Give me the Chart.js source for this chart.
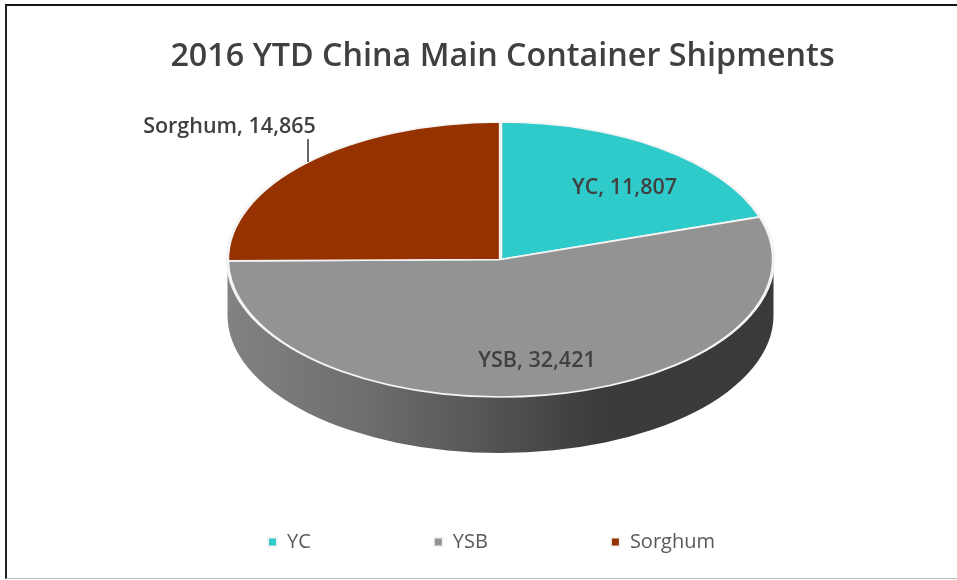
<!DOCTYPE html>
<html lang="en">
<head>
  <meta charset="UTF-8">
  <title>2016 YTD China Main Container Shipments</title>
  <script src="https://cdn.jsdelivr.net/npm/chart.js"></script>
  <style>
    html, body { margin: 0; background: #fff; overflow: hidden; }
    #frame {
      position: absolute; left: 5px; top: 4px; width: 950px; height: 572px;
      border-top: 2px solid #111; border-left: 2px solid #222; border-bottom: 1px solid #bbb;
      filter: blur(0.4px);
    }
    #chartShipments { position: absolute; left: 0; top: 0; filter: blur(0.5px); }
  </style>
</head>
<body>
  <div id="frame"></div>
  <canvas id="chartShipments" width="957" height="580"></canvas>

  <script>
    const chartTitle = '2016 YTD China Main Container Shipments';
    const categories = ['YC', 'YSB', 'Sorghum'];
    const shipments = [11807, 32421, 14865];
    const sliceColors = ['#2FCBCB', '#939393', '#963200'];

    // where the flattened pie sits on the page
    const pie = { x: 500.5, y: 259.5, rx: 273, ry: 137.5, depth: 56 };
    // data label centres, leader only for the outside one
    const labelSpots = [[624.5, 188], [537, 361], [229.5, 127]];
    const leader = [[308, 139], [308, 162]];

    function rimGradient(ctx) {
      const g = ctx.createLinearGradient(pie.x - pie.rx, 0, pie.x + pie.rx, 0);
      g.addColorStop(0, '#828282');
      g.addColorStop(0.25, '#6e6e6e');
      g.addColorStop(0.45, '#585858');
      g.addColorStop(0.68, '#3b3b3b');
      g.addColorStop(1, '#3a3a3a');
      return g;
    }

    const flatPie = {
      id: 'flatPie',
      afterLayout(chart) {
        // title and legend are not centred on the page in the original
        chart.titleBlock.left += 24;
        chart.titleBlock.right += 24;
        chart.legend.left += 13;
        chart.legend.right += 13;
        chart.legend.top -= 18;
        chart.legend.bottom -= 18;
      },
      beforeDatasetsDraw(chart) {
        const ctx = chart.ctx;
        const arcs = chart.getDatasetMeta(0).data;
        // side wall, only the front half of the ellipse shows
        ctx.save();
        ctx.fillStyle = rimGradient(ctx);
        arcs.forEach(arc => {
          const a0 = Math.max(arc.startAngle, 0);
          const a1 = Math.min(arc.endAngle, Math.PI);
          if (a1 <= a0) return;
          ctx.beginPath();
          ctx.ellipse(pie.x, pie.y + pie.depth, pie.rx, pie.ry, 0, a0, a1);
          ctx.ellipse(pie.x, pie.y, pie.rx, pie.ry, 0, a1, a0, true);
          ctx.closePath();
          ctx.fill();
        });
        ctx.restore();

        const first = arcs[0];
        ctx.save();
        ctx.translate(pie.x, pie.y);
        ctx.scale(pie.rx / first.outerRadius, pie.ry / first.outerRadius);
        ctx.translate(-first.x, -first.y);
      },
      afterDatasetsDraw(chart) {
        chart.ctx.restore();
      },
      afterDraw(chart) {
        const ctx = chart.ctx;
        ctx.save();
        ctx.strokeStyle = '#666';
        ctx.lineWidth = 2;
        ctx.beginPath();
        ctx.moveTo(leader[0][0], leader[0][1]);
        ctx.lineTo(leader[1][0], leader[1][1]);
        ctx.stroke();
        ctx.font = '600 21.5px "Open Sans"';
        ctx.fillStyle = '#404040';
        ctx.textAlign = 'center';
        ctx.textBaseline = 'middle';
        categories.forEach((name, i) => {
          const text = name + ', ' + shipments[i].toLocaleString('en-US');
          ctx.fillText(text, labelSpots[i][0], labelSpots[i][1]);
        });
        ctx.restore();
      }
    };

    new Chart(document.getElementById('chartShipments'), {
      type: 'pie',
      data: {
        labels: categories,
        datasets: [{
          data: shipments,
          backgroundColor: sliceColors,
          borderColor: '#f4f4f4',
          borderWidth: 2
        }]
      },
      options: {
        responsive: false,
        animation: false,
        plugins: {
          title: {
            display: true,
            text: chartTitle,
            color: '#404040',
            font: { family: '"Open Sans"', size: 32.3, weight: '600' },
            padding: { top: 37, bottom: 20 }
          },
          legend: {
            position: 'bottom',
            labels: {
              color: '#595959',
              font: { family: '"Open Sans"', size: 20 },
              usePointStyle: true,
              pointStyle: 'rect',
              boxHeight: 9,
              pointStyleWidth: 9,
              padding: 123
            }
          },
          tooltip: { enabled: false }
        }
      },
      plugins: [flatPie]
    });
  </script>
</body>
</html>
